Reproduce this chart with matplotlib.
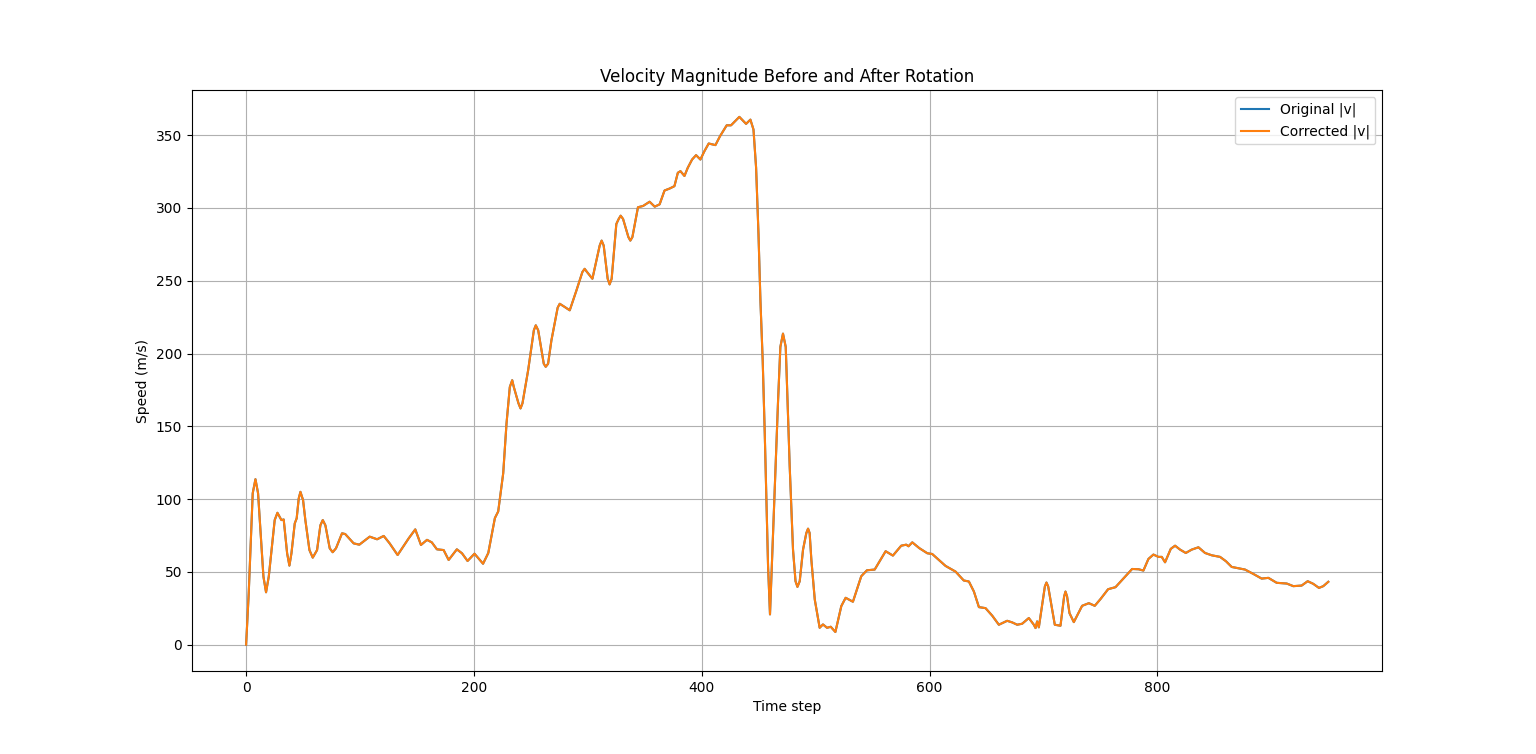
import matplotlib
matplotlib.use("Agg")
import matplotlib.pyplot as plt
import numpy as np

# (time step, |v|) knots
time_steps = [
    0, 2.3, 5.8, 8.2, 10.5, 15.2, 17.5, 19.9, 25.1, 27.5, 31, 33, 36, 38, 39.8,
    42.7, 44.4, 46.2, 47.7, 50, 52, 55.6, 58.5, 62.3, 65.2, 67.3, 69.6, 73.4,
    76, 78.9, 84.2, 87, 94.4, 99.4, 108.5, 115, 120.8, 126, 133, 142.7, 148.5,
    153.5, 158.8, 163, 167.5, 173.4, 177.8, 185, 189.5, 194.4, 200.5, 208,
    212.6, 218.4, 221.3, 225.7, 228.6, 231.5, 233.6, 235, 239.1, 240.9, 242.6,
    247.6, 252.6, 254.3, 256.4, 261.3, 263, 265.1, 268, 273.5, 275.3, 279.7,
    284.1, 290, 295.2, 297.2, 299.3, 304, 310.4, 312.1, 313.9, 317.4, 319.1,
    320.9, 325, 327.1, 328.8, 330.9, 335.6, 337.3, 339.1, 344, 348.5, 354.2,
    358.7, 363, 367.3, 371.6, 376, 379, 381.3, 384.8, 387.7, 391.5, 395, 398.8,
    402.3, 406.1, 412, 416, 421.9, 425.7, 433, 438.9, 442.7, 445.4, 447.7,
    449.8, 451.5, 453.5, 455.3, 458.2, 459.9, 462.6, 467, 469, 471.3, 473.7,
    474.3, 477.2, 480.1, 482.3, 484, 486, 488.9, 491.8, 493.3, 494.7, 496.2,
    499.2, 503.5, 506.4, 510, 513.2, 517.3, 522.5, 526.3, 532.7, 540, 545,
    551.8, 561.4, 567.8, 575.1, 579.5, 581.5, 584.8, 591, 598, 602.3, 608.2,
    614, 622.8, 630, 634.5, 638.9, 643.3, 649.1, 655, 660.8, 668.1, 672.5,
    676.9, 681.3, 687.1, 691.5, 693, 694.4, 695.9, 699.4, 701.2, 702.6, 704.1,
    706.1, 709.9, 714.9, 718.1, 719.3, 720.7, 722.8, 726.6, 733.9, 739.8, 745,
    750, 756.7, 763.2, 770.5, 777.8, 783.5, 787.7, 792.1, 796.5, 800.9, 803.8,
    806.7, 811.7, 815.5, 819.9, 824.9, 830.1, 836, 841.8, 847.7, 855, 860.2,
    865.2, 869.6, 876.9, 884.2, 891.5, 897.4, 904.7, 913.5, 919.3, 926.6,
    931.9, 936.8, 941.8, 945.6, 950,
]
speed = [
    0, 35.4, 104, 113.7, 104, 46.8, 36, 46.8, 85.6, 90.6, 85.6, 86, 62.8, 54.3,
    62.8, 83.3, 86.8, 100.5, 105, 99.3, 85.6, 65, 59.8, 65, 82, 85.6, 82, 66.2,
    63.5, 66.2, 76.5, 76, 69.6, 68.7, 74.2, 72.4, 74.7, 69.6, 61.6, 73, 79.2,
    68.5, 72, 70.3, 65.5, 65, 58.2, 65.5, 62.8, 57.5, 62.5, 55.6, 63, 87, 91.5,
    117.8, 152, 177, 181.7, 177, 165.8, 162.3, 165.8, 188.6, 216, 219.4, 216,
    193, 190.9, 193, 209, 231.5, 234.2, 232, 229.7, 243.4, 256, 258.2, 256,
    251.4, 274.2, 277.6, 274.2, 251.4, 247.5, 251.4, 289, 292.5, 294.7, 292.5,
    280, 277.6, 280, 300.5, 301.4, 304.3, 300.9, 302.5, 312, 313.3, 315, 324.2,
    325.3, 322, 327.6, 333.3, 336.3, 333.3, 339, 344.3, 343.2, 349.3, 356.8,
    356.8, 362.6, 357.8, 360.7, 353.9, 327.6, 282, 236.3, 195, 145, 53.9, 20.8,
    76.7, 168, 204.6, 213.7, 204.6, 190.9, 122.4, 65.3, 43.6, 39.7, 43.6, 65.3,
    76.7, 79.7, 76.7, 58.4, 31, 11.6, 13.9, 11.6, 12.3, 8.7, 26.5, 32.2, 29.5,
    47, 51.1, 51.6, 64.2, 61.2, 68, 68.7, 67.6, 70.3, 66.3, 62.8, 62.3, 58.2,
    54.1, 50.2, 44.1, 43.4, 36.5, 25.8, 25.1, 19.9, 13.7, 16.4, 15.3, 13.7,
    14.4, 18.3, 13.7, 11.4, 16, 11.9, 30.8, 40, 42.7, 40, 30.8, 13.7, 13, 33.1,
    36.5, 33.1, 21.7, 15.5, 26.7, 28.5, 26.7, 31.3, 38.1, 39.5, 45.7, 52, 51.8,
    50.9, 58.9, 61.9, 60.3, 60.3, 56.6, 65.8, 68, 65.3, 63, 65.3, 66.9, 63,
    61.4, 60.3, 57.3, 53.4, 52.7, 51.6, 48.6, 45.4, 45.9, 42.5, 42, 40.2, 40.6,
    43.6, 41.8, 39, 40.2, 43.2,
]

t = np.array(time_steps)
v_orig = np.array(speed)
v_corr = np.array(speed)

fig, ax = plt.subplots(figsize=(15.36, 7.54), dpi=100)
ax.plot(t, v_orig, label="Original |v|")
ax.plot(t, v_corr, label="Corrected |v|")
ax.set_title("Velocity Magnitude Before and After Rotation")
ax.set_xlabel("Time step")
ax.set_ylabel("Speed (m/s)")
ax.grid(True)
ax.legend(loc="upper right")
fig.savefig("out.png", dpi=100)
